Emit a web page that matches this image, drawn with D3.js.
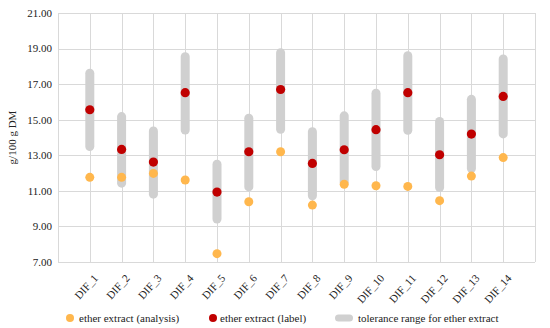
<!DOCTYPE html>
<html>
<head>
<meta charset="utf-8">
<script src="https://cdn.jsdelivr.net/npm/d3@7"></script>
<style>
    body { margin: 0; background: #fff; }
</style>
</head>
<body>
<div id="chart"></div>
<script>
var categories = ["DIF_1", "DIF_2", "DIF_3", "DIF_4", "DIF_5", "DIF_6", "DIF_7",
    "DIF_8", "DIF_9", "DIF_10", "DIF_11", "DIF_12", "DIF_13", "DIF_14"];
var analysis = [11.76, 11.76, 11.98, 11.61, 7.47, 10.39, 13.20, 10.20, 11.37, 11.29, 11.25, 10.45, 11.83, 12.87];
var labelValues = [15.56, 13.33, 12.62, 16.52, 10.93, 13.20, 16.70, 12.54, 13.31, 14.44, 16.52, 13.03, 14.19, 16.31];
var tolLow = [13.24, 11.18, 10.56, 14.17, 9.16, 10.97, 14.21, 10.47, 11.22, 12.11, 14.15, 10.93, 12.00, 13.95];
var tolHigh = [17.87, 15.43, 14.62, 18.80, 12.75, 15.34, 19.02, 14.58, 15.47, 16.74, 18.85, 15.15, 16.40, 18.67];
var yTicks = [7, 9, 11, 13, 15, 17, 19, 21];

var margin = { top: 13, right: 15, bottom: 66, left: 58 },
    width = 550 - margin.left - margin.right,
    height = 328 - margin.top - margin.bottom,
    fontFamily = "'Liberation Serif'",
    fontSize = "11px";

var svg = d3.select("#chart")
    .append("svg")
    .attr("width", 550)
    .attr("height", 328);

var plot = svg.append("g")
    .attr("transform", "translate(" + margin.left + "," + margin.top + ")");

var x = d3.scaleLinear().domain([0, categories.length + 1]).range([0, width]);
var y = d3.scaleLinear().domain([7, 21]).range([height, 0]);

// grid
plot.selectAll("line.hgrid")
    .data(yTicks)
    .enter()
    .append("line")
    .attr("x1", 0)
    .attr("x2", width)
    .attr("y1", function(d) { return Math.round(y(d)) + 0.5; })
    .attr("y2", function(d) { return Math.round(y(d)) + 0.5; })
    .attr("stroke", "#d9d9d9");

plot.selectAll("line.vgrid")
    .data(d3.range(0, categories.length + 2))
    .enter()
    .append("line")
    .attr("x1", function(d) { return Math.round(x(d)) + 0.5; })
    .attr("x2", function(d) { return Math.round(x(d)) + 0.5; })
    .attr("y1", 0)
    .attr("y2", height)
    .attr("stroke", "#d9d9d9");

// y tick labels
plot.selectAll("text.ytick")
    .data(yTicks)
    .enter()
    .append("text")
    .attr("x", -6)
    .attr("y", function(d) { return y(d); })
    .attr("dy", "0.35em")
    .attr("text-anchor", "end")
    .attr("fill", "#222")
    .style("font-family", fontFamily)
    .style("font-size", fontSize)
    .text(function(d) { return d3.format(".2f")(d); });

svg.append("text")
    .attr("transform", "translate(16," + (margin.top + height / 2) + ") rotate(-90)")
    .attr("text-anchor", "middle")
    .attr("fill", "#222")
    .style("font-family", fontFamily)
    .style("font-size", fontSize)
    .text("g/100 g DM");

// x labels
plot.selectAll("text.xtick")
    .data(categories)
    .enter()
    .append("text")
    .attr("transform", function(d, i) {
        return "translate(" + (x(i + 1) + 6) + "," + (height + 14) + ") rotate(-48)";
    })
    .attr("text-anchor", "end")
    .attr("dy", "0.35em")
    .attr("fill", "#222")
    .style("font-family", fontFamily)
    .style("font-size", fontSize)
    .text(function(d) { return d; });

// tolerance ranges
var barW = 9;
plot.selectAll("rect.tol")
    .data(categories)
    .enter()
    .append("rect")
    .attr("x", function(d, i) { return x(i + 1) - barW / 2; })
    .attr("width", barW)
    .attr("y", function(d, i) { return y(tolHigh[i]); })
    .attr("height", function(d, i) { return y(tolLow[i]) - y(tolHigh[i]); })
    .attr("rx", barW / 2)
    .attr("fill", "#d0d0d0");

plot.selectAll("circle.analysis")
    .data(analysis)
    .enter()
    .append("circle")
    .attr("cx", function(d, i) { return x(i + 1); })
    .attr("cy", function(d) { return y(d); })
    .attr("r", 4.5)
    .attr("fill", "#ffb74d");

plot.selectAll("circle.label")
    .data(labelValues)
    .enter()
    .append("circle")
    .attr("cx", function(d, i) { return x(i + 1); })
    .attr("cy", function(d) { return y(d); })
    .attr("r", 4.6)
    .attr("fill", "#c00000");

// legend
var legend = svg.append("g").attr("transform", "translate(0,318)");
legend.append("circle").attr("cx", 70).attr("cy", 0).attr("r", 4).attr("fill", "#ffb74d");
legend.append("text").attr("x", 79).attr("y", 0).attr("dy", "0.35em").attr("fill", "#222")
    .style("font-family", fontFamily)
    .style("font-size", fontSize).text("ether extract (analysis)");
legend.append("circle").attr("cx", 213).attr("cy", 0).attr("r", 4).attr("fill", "#c00000");
legend.append("text").attr("x", 220).attr("y", 0).attr("dy", "0.35em").attr("fill", "#222")
    .style("font-family", fontFamily)
    .style("font-size", fontSize).text("ether extract (label)");
legend.append("rect").attr("x", 335).attr("y", -3.5).attr("width", 18).attr("height", 7)
    .attr("rx", 3.5).attr("fill", "#d0d0d0");
legend.append("text").attr("x", 358).attr("y", 0).attr("dy", "0.35em").attr("fill", "#222")
    .style("font-family", fontFamily)
    .style("font-size", fontSize).text("tolerance range for ether extract");
</script>
</body>
</html>
